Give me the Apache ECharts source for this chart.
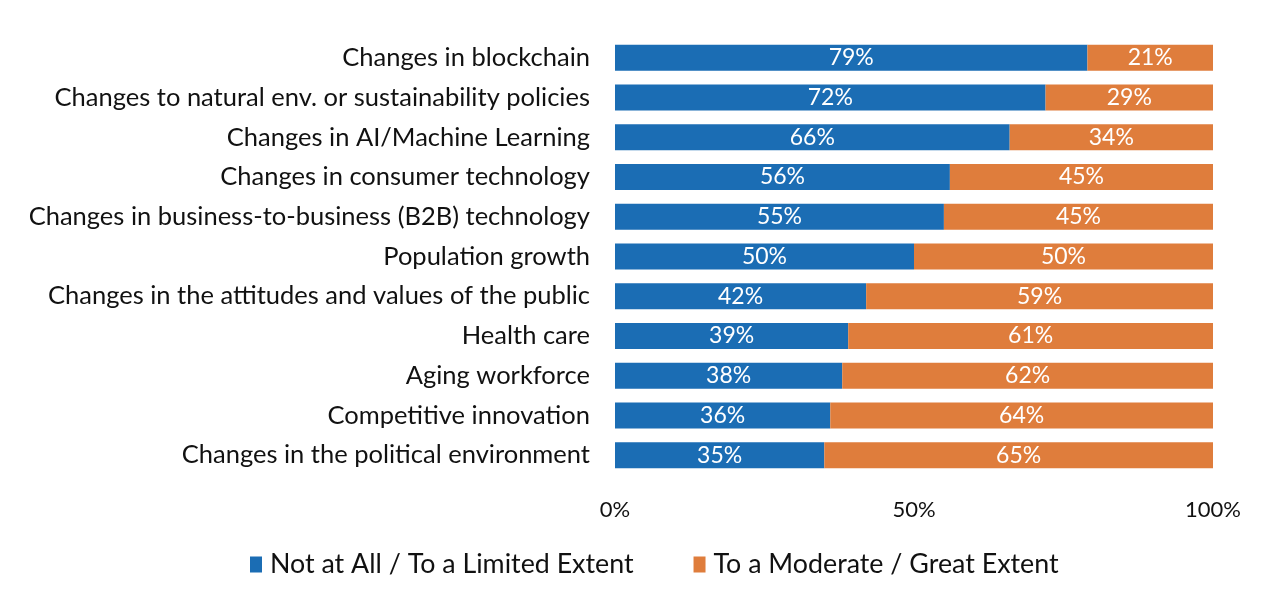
<!DOCTYPE html>
<html>
<head>
<meta charset="utf-8">
<script src="https://cdn.jsdelivr.net/npm/echarts@6/dist/echarts.min.js"></script>
<style>
  html, body { margin: 0; padding: 0; background: #fff; }
  #chart { width: 1262px; height: 596px; }
</style>
</head>
<body>
<div id="chart"></div>
<script>
// Drivers of change, share of respondents per answer group (top to bottom)
const categories = [
  'Changes in blockchain',
  'Changes to natural env. or sustainability policies',
  'Changes in AI/Machine Learning',
  'Changes in consumer technology',
  'Changes in business-to-business (B2B) technology',
  'Population growth',
  'Changes in the attitudes and values of the public',
  'Health care',
  'Aging workforce',
  'Competitive innovation',
  'Changes in the political environment'
];
const limitedExtent = [79, 72, 66, 56, 55, 50, 42, 39, 38, 36, 35];
const greatExtent = [21, 29, 34, 45, 45, 50, 59, 61, 62, 64, 65];
const seriesNames = ['Not at All / To a Limited Extent', 'To a Moderate / Great Extent'];
const xTicks = [0, 50, 100];

const FONT = 'Lato, "Open Sans", sans-serif';
const chart = echarts.init(document.getElementById('chart'));

const labelStyle = {
  show: true,
  position: 'inside',
  color: '#ffffff',
  fontFamily: FONT,
  fontSize: 23,
  formatter: p => p.value + '%'
};

chart.setOption({
  animation: false,
  backgroundColor: '#ffffff',
  grid: { left: 615, right: 49, top: 38, bottom: 121 },
  legend: {
    bottom: 13,
    left: 245,
    itemWidth: 12,
    itemHeight: 16,
    itemGap: 60,
    icon: 'rect',
    textStyle: { fontFamily: FONT, fontSize: 26.8, color: '#111', padding: [0, 0, 0, 3] },
    data: seriesNames
  },
  xAxis: {
    type: 'value',
    min: 0,
    max: 100,
    interval: 50,
    splitLine: { show: false },
    axisLine: { show: false },
    axisTick: { show: false },
    axisLabel: {
      margin: 24,
      fontFamily: FONT,
      fontSize: 22,
      color: '#111',
      formatter: v => (xTicks.includes(v) ? v + '%' : '')
    }
  },
  yAxis: {
    type: 'category',
    inverse: true,
    data: categories,
    axisLine: { show: false },
    axisTick: { show: false },
    axisLabel: {
      margin: 25,
      fontFamily: FONT,
      fontSize: 25.5,
      color: '#111'
    }
  },
  series: [
    {
      name: seriesNames[0],
      type: 'bar',
      stack: 'total',
      barWidth: 26,
      data: limitedExtent,
      itemStyle: { color: '#1b6db4' },
      label: labelStyle
    },
    {
      name: seriesNames[1],
      type: 'bar',
      stack: 'total',
      barWidth: 26,
      data: greatExtent,
      itemStyle: { color: '#df7d3c' },
      label: labelStyle
    }
  ]
});
</script>
</body>
</html>
